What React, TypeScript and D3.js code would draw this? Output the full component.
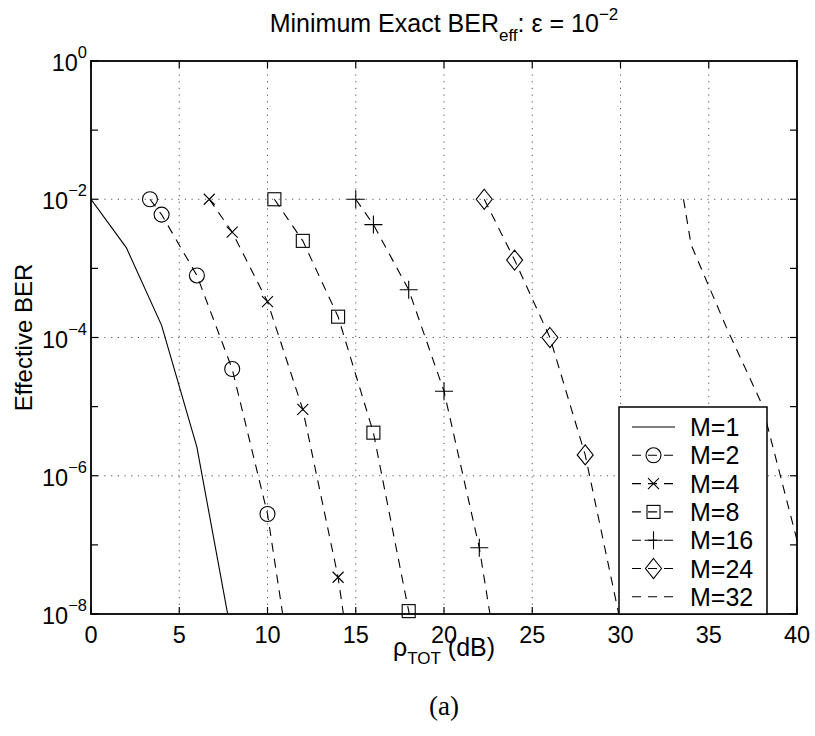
import React from 'react';
import * as d3 from 'd3';

const xTicks = [0, 5, 10, 15, 20, 25, 30, 35, 40];
const yLabelExps = [0, -2, -4, -6, -8];
const yTickExps = [0, -1, -2, -3, -4, -5, -6, -7, -8];
const yGridExps = [-2, -4, -6];

const seriesNames = ['M=1', 'M=2', 'M=4', 'M=8', 'M=16', 'M=24', 'M=32'];
const seriesMarkers = ['none', 'circle', 'x', 'square', 'plus', 'diamond', 'none'];
const seriesDashed = [false, true, true, true, true, true, true];

const m1X = [0, 2, 4, 6, 8];
const m1Y = [1e-2, 2.0e-3, 1.5e-4, 2.6e-6, 4.4e-9];
const m2X = [3.34, 4, 6, 8, 10, 12];
const m2Y = [1e-2, 6.0e-3, 7.9e-4, 3.5e-5, 2.8e-7, 1.2e-10];
const m4X = [6.7, 8, 10, 12, 14, 16];
const m4Y = [1e-2, 3.35e-3, 3.3e-4, 9.1e-6, 3.4e-8, 1e-11];
const m8X = [10.39, 12, 14, 16, 18, 20];
const m8Y = [1e-2, 2.5e-3, 2.0e-4, 4.2e-6, 1.1e-8, 1.6e-11];
const m16X = [15, 16, 18, 20, 22, 24];
const m16Y = [1e-2, 4.3e-3, 4.9e-4, 1.67e-5, 9.1e-8, 6e-11];
const m24X = [22.28, 24, 26, 28, 30];
const m24Y = [1e-2, 1.32e-3, 1.0e-4, 2.0e-6, 7.6e-9];
const m32X = [33.57, 34, 36, 38, 40];
const m32Y = [1e-2, 2.2e-3, 1.4e-4, 1.1e-5, 1.17e-7];

const seriesX = [m1X, m2X, m4X, m8X, m16X, m24X, m32X];
const seriesY = [m1Y, m2Y, m4Y, m8Y, m16Y, m24Y, m32Y];

const W = 815, H = 736;
const L = 91, R = 797, T = 61, B = 614;
const FONT = '"Liberation Sans", Arial, Helvetica, sans-serif';
const DASH = '9,7';

const x = d3.scaleLinear().domain([0, 40]).range([L, R]);
const y = d3.scaleLog().domain([1e-8, 1]).range([B, T]);

function Marker({ type, cx, cy }: { type: string; cx: number; cy: number }) {
  const s = { fill: 'none', stroke: '#000', strokeWidth: 1.1 } as any;
  if (type === 'circle') return <circle cx={cx} cy={cy} r={7.5} {...s} />;
  if (type === 'x') {
    const a = 5.5;
    return <path d={`M${cx - a},${cy - a}L${cx + a},${cy + a}M${cx - a},${cy + a}L${cx + a},${cy - a}`} {...s} />;
  }
  if (type === 'square') return <rect x={cx - 6.5} y={cy - 6.5} width={13} height={13} {...s} />;
  if (type === 'plus') {
    const a = 9;
    return <path d={`M${cx - a},${cy}L${cx + a},${cy}M${cx},${cy - a}L${cx},${cy + a}`} {...s} />;
  }
  if (type === 'diamond') {
    return <path d={`M${cx},${cy - 10}L${cx + 8},${cy}L${cx},${cy + 10}L${cx - 8},${cy}Z`} {...s} />;
  }
  return null;
}

export default function App() {
  const line = d3
    .line<[number, number]>()
    .x((d) => x(d[0]))
    .y((d) => y(d[1]));

  const legendTop = 407, legendLeft = 619, legendRight = 767;
  const rowY = (i: number) => 427 + i * 28.3;

  return (
    <svg width={W} height={H} style={{ position: 'absolute', left: 0, top: 0, background: '#fff' }} fontFamily={FONT}>
      <defs>
        <clipPath id="plotclip">
          <rect x={L} y={T} width={R - L} height={B - T} />
        </clipPath>
      </defs>
      <rect x={0} y={0} width={W} height={H} fill="#fff" />

      {/* grid */}
      {xTicks.slice(1, -1).map((v) => (
        <line key={'gx' + v} x1={x(v)} x2={x(v)} y1={T} y2={B} stroke="#555" strokeWidth={1} strokeDasharray="1.2,5.5" />
      ))}
      {yGridExps.map((e) => (
        <line key={'gy' + e} x1={L} x2={R} y1={y(Math.pow(10, e))} y2={y(Math.pow(10, e))} stroke="#555" strokeWidth={1} strokeDasharray="1.2,5.5" />
      ))}

      {/* series lines */}
      <g clipPath="url(#plotclip)">
        {seriesNames.map((name, i) => {
          const pts = seriesX[i].map((v, j) => [v, seriesY[i][j]] as [number, number]);
          return (
            <path
              key={name}
              d={line(pts) || ''}
              fill="none"
              stroke="#000"
              strokeWidth={1.1}
              strokeDasharray={seriesDashed[i] ? DASH : undefined}
            />
          );
        })}
      </g>

      {/* markers */}
      {seriesNames.map((name, i) =>
        seriesX[i].map((v, j) =>
          seriesY[i][j] >= 1e-8 ? (
            <Marker key={name + j} type={seriesMarkers[i]} cx={x(v)} cy={y(seriesY[i][j])} />
          ) : null
        )
      )}

      {/* ticks */}
      {xTicks.map((v) => (
        <g key={'tx' + v}>
          <line x1={x(v)} x2={x(v)} y1={B} y2={B - 7} stroke="#000" strokeWidth={1.2} />
          <line x1={x(v)} x2={x(v)} y1={T} y2={T + 7} stroke="#000" strokeWidth={1.2} />
        </g>
      ))}
      {yTickExps.map((e) => (
        <g key={'ty' + e}>
          <line x1={L} x2={L + 7} y1={y(Math.pow(10, e))} y2={y(Math.pow(10, e))} stroke="#000" strokeWidth={1.2} />
          <line x1={R} x2={R - 7} y1={y(Math.pow(10, e))} y2={y(Math.pow(10, e))} stroke="#000" strokeWidth={1.2} />
        </g>
      ))}

      {/* axes box */}
      <rect x={L} y={T} width={R - L} height={B - T} fill="none" stroke="#000" strokeWidth={1.8} />

      {/* legend */}
      <rect x={legendLeft} y={legendTop} width={legendRight - legendLeft} height={B - legendTop} fill="#fff" stroke="#000" strokeWidth={1.5} />
      {seriesNames.map((name, i) => (
        <g key={'lg' + name}>
          <line x1={632} x2={675} y1={rowY(i)} y2={rowY(i)} stroke="#000" strokeWidth={1.1} strokeDasharray={seriesDashed[i] ? DASH : undefined} />
          <Marker type={seriesMarkers[i]} cx={653.5} cy={rowY(i)} />
          <text x={690} y={rowY(i) + 9} fontSize={25}>{name}</text>
        </g>
      ))}

      {/* tick labels */}
      {xTicks.map((v) => (
        <text key={'lx' + v} x={x(v)} y={643} fontSize={23.5} textAnchor="middle">{v}</text>
      ))}
      {yLabelExps.map((e) => (
        <text key={'ly' + e} x={87} y={y(Math.pow(10, e)) + 10} fontSize={23.5} textAnchor="end">
          10<tspan dy={-13} fontSize={16.5}>{e === 0 ? '0' : '\u2212' + Math.abs(e)}</tspan>
        </text>
      ))}

      {/* title */}
      <text x={(L + R) / 2} y={32} fontSize={25} textAnchor="middle">
        Minimum Exact BER<tspan dy={9} fontSize={17}>eff</tspan>
        <tspan dy={-9}>: ε = 10</tspan>
        <tspan dy={-12} fontSize={17}>{'\u22122'}</tspan>
      </text>

      {/* axis labels */}
      <text transform={`translate(32,${(T + B) / 2}) rotate(-90)`} fontSize={24} textAnchor="middle">Effective BER</text>
      <text x={(L + R) / 2} y={656} fontSize={25} textAnchor="middle">
        ρ<tspan dy={8} fontSize={17}>TOT</tspan>
        <tspan dy={-8}> (dB)</tspan>
      </text>

      <text x={(L + R) / 2} y={715} fontSize={27} textAnchor="middle" fontFamily='"Liberation Serif", "DejaVu Serif", serif'>(a)</text>
    </svg>
  );
}
